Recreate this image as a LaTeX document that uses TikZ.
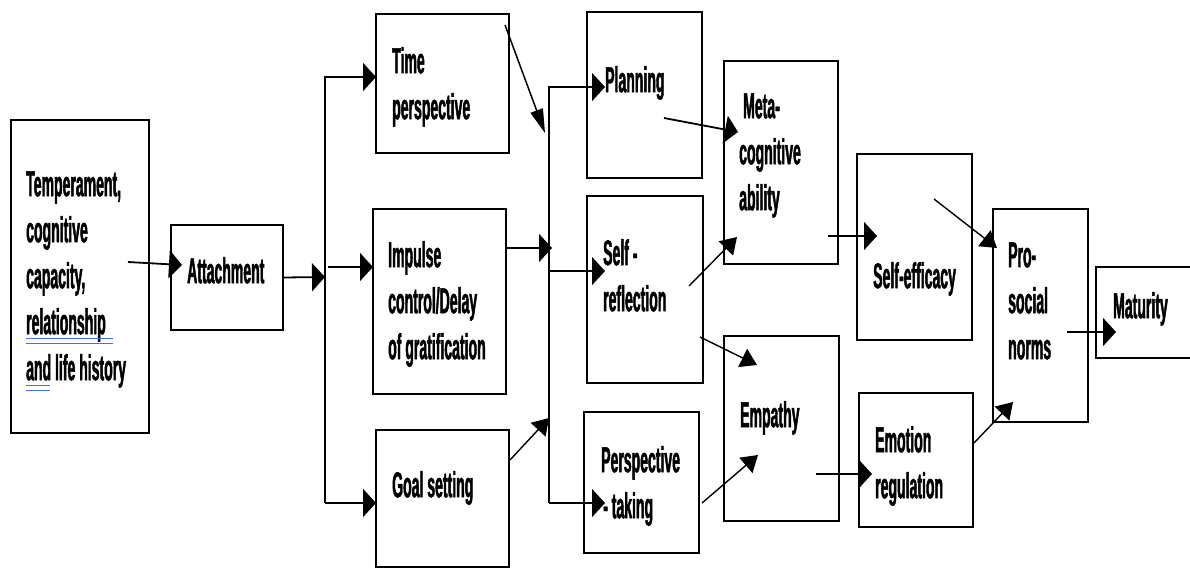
\documentclass[tikz,border=0pt]{standalone}
\usepackage{fontspec}
\newfontfamily\lab{Liberation Sans}[FakeStretch=0.39, BoldFeatures={FakeBold=1.2}]
\usetikzlibrary{arrows.meta}
\definecolor{ulblue}{RGB}{70,110,225}
\tikzset{
  box/.style={draw, line width=1.7pt, inner sep=0pt, outer sep=0pt},
  lbl/.style={anchor=north west, inner sep=0pt, align=left, font=\lab\bfseries\fontsize{36}{46}\selectfont},
  conn/.style={line width=1.8pt, -{Triangle[length=13pt,width=28pt]}},
  dconn/.style={line width=1.4pt, -{Triangle[length=16pt,width=20pt]}},
  sconn/.style={line width=1.5pt, -{Triangle[length=24pt,width=13pt]}},
  uline/.style={ulblue, line width=1pt},
}
\newcommand{\fl}{\rule{0pt}{28pt}}
\begin{document}
\begin{tikzpicture}[x=1pt,y=-1pt]
\useasboundingbox (0,0) rectangle (1190,568);
% boxes
\node[box, minimum width=138pt, minimum height=313pt] (temp)  at (80,276.5) {};
\node[box, minimum width=112pt, minimum height=105pt] (att)   at (227,277.5) {};
\node[box, minimum width=133pt, minimum height=139pt] (time)  at (442.5,83.5) {};
\node[box, minimum width=133pt, minimum height=185pt] (imp)   at (439.5,301.5) {};
\node[box, minimum width=133pt, minimum height=137pt] (goal)  at (442.5,498.5) {};
\node[box, minimum width=115pt, minimum height=166pt] (plan)  at (644.5,95) {};
\node[box, minimum width=116pt, minimum height=187pt] (self)  at (645,289.5) {};
\node[box, minimum width=115pt, minimum height=141pt] (persp) at (641.5,482.5) {};
\node[box, minimum width=114pt, minimum height=203pt] (meta)  at (781,162.5) {};
\node[box, minimum width=115pt, minimum height=185pt] (emp)   at (781.5,428.5) {};
\node[box, minimum width=115pt, minimum height=186pt] (eff)   at (914.5,247) {};
\node[box, minimum width=114pt, minimum height=134pt] (emo)   at (916,460) {};
\node[box, minimum width=95pt,  minimum height=213pt] (pro)   at (1040.5,315.5) {};
\node[box, minimum width=104pt, minimum height=91pt]  (mat)   at (1148,312.5) {};
% labels
\node[lbl] (tTemp)  at (26,168)  {\fl Temperament,\\cognitive\\capacity,\\relationship\\and life history};
\node[lbl] (tAtt)   at (187,255) {\fl Attachment};
\node[lbl] (tTime)  at (392,45)  {\fl Time\\perspective};
\node[lbl] (tImp)   at (388,239) {\fl Impulse\\control/Delay\\of gratification};
\node[lbl] (tGoal)  at (392,469) {\fl Goal setting};
\node[lbl] (tPlan)  at (605,64)  {\fl Planning};
\node[lbl] (tSelf)  at (603,237) {\fl Self -\\reflection};
\node[lbl] (tPersp) at (601,444) {\fl Perspective\\\hspace*{2pt}- taking};
\node[lbl] (tMeta)  at (739,90)  {\fl\hspace*{4pt}Meta-\\cognitive\\ability};
\node[lbl] (tEmp)   at (740,399) {\fl Empathy};
\node[lbl] (tEff)   at (873,260) {\fl Self-efficacy};
\node[lbl] (tEmo)   at (875,424) {\fl Emotion\\regulation};
\node[lbl] (tPro)   at (1008,239) {\fl Pro-\\social\\norms};
\node[lbl] (tMat)   at (1113,290) {\fl Maturity};
% spell-check underlines
\coordinate (u1a) at (26,338); \coordinate (u1b) at (113,338);
\coordinate (u2a) at (26,343); \coordinate (u2b) at (113,343);
\coordinate (u3a) at (26,385); \coordinate (u3b) at (50,385);
\coordinate (u4a) at (26,390); \coordinate (u4b) at (50,390);
\draw[uline] (u1a) -- (u1b); \draw[uline] (u2a) -- (u2b);
\draw[uline] (u3a) -- (u3b); \draw[uline] (u4a) -- (u4b);
% connector points
\coordinate (tempOut) at (128,262);
\coordinate (attIn)   at (182,265);
\coordinate (lbTop)   at (325,77);
\coordinate (lbBot)   at (325,503);
\coordinate (lbAtt)   at (325,277);
\coordinate (lbImp)   at (328,267);
\coordinate (timeOut) at (505,25);
\coordinate (rbTime)  at (545,133);
\coordinate (rbImp)   at (552,248);
\coordinate (goalOut) at (510,460);
\coordinate (rbGoal)  at (549,418);
\coordinate (rbTop)   at (549,87);
\coordinate (rbSelf)  at (549,271);
\coordinate (rbBot)   at (549,503);
\coordinate (planIn)  at (605,87);
\coordinate (selfIn)  at (605,271);
\coordinate (perspIn) at (605,503);
\coordinate (planOut) at (664,118);
\coordinate (metaIn1) at (738,132);
\coordinate (selfOut1) at (689,286);
\coordinate (metaIn2) at (737,237);
\coordinate (selfOut2) at (700,337);
\coordinate (empIn1)  at (757,365);
\coordinate (perspOut) at (702,503);
\coordinate (empIn2)  at (758,455);
\coordinate (metaOut) at (828,236);
\coordinate (effIn)   at (877,236);
\coordinate (empOut)  at (816,474);
\coordinate (emoIn)   at (872,474);
\coordinate (effOut)  at (934,199);
\coordinate (proIn1)  at (997,248);
\coordinate (emoOut)  at (974,443);
\coordinate (proIn2)  at (1013,402);
\coordinate (proOut)  at (1067,332);
\coordinate (matIn)   at (1116,332);
% connectors
\draw[conn] (tempOut) -- (attIn);
\draw[conn] (att.east) -- (lbAtt);
\draw[conn] (lbBot) |- (time.west |- lbTop);
\draw[conn] (lbImp) -- (imp.west |- lbImp);
\draw[conn] (lbBot) -- (goal.west |- lbBot);
\draw[sconn] (timeOut) -- (rbTime);
\draw[conn] (imp.east |- rbImp) -- (rbImp);
\draw[dconn] (goalOut) -- (rbGoal);
\draw[conn] (rbBot) |- (planIn);
\draw[conn] (rbSelf) -- (selfIn);
\draw[conn] (rbBot) -- (perspIn);
\draw[conn] (planOut) -- (metaIn1);
\draw[dconn] (selfOut1) -- (metaIn2);
\draw[dconn] (selfOut2) -- (empIn1);
\draw[dconn] (perspOut) -- (empIn2);
\draw[conn] (metaOut) -- (effIn);
\draw[conn] (empOut) -- (emoIn);
\draw[dconn] (effOut) -- (proIn1);
\draw[dconn] (emoOut) -- (proIn2);
\draw[conn] (proOut) -- (matIn);
\end{tikzpicture}
\end{document}
